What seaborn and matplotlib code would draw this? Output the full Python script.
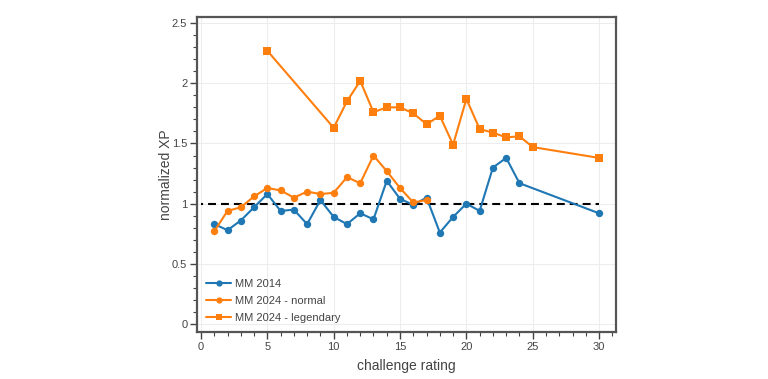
# normalized XP vs challenge rating, MM 2014 vs MM 2024

import matplotlib
matplotlib.use('Agg')
import matplotlib.pyplot as plt
import seaborn as sns
from matplotlib.ticker import MultipleLocator

# Data
cr_2014 = [1, 2, 3, 4, 5, 6, 7, 8, 9, 10, 11, 12, 13, 14, 15, 16, 17, 18, 19, 20, 21, 22, 23, 24, 30]
xp_2014 = [0.83, 0.78, 0.86, 0.97, 1.08, 0.94, 0.95, 0.83, 1.03, 0.89, 0.83, 0.92, 0.87, 1.19,
           1.04, 0.99, 1.05, 0.76, 0.89, 1.00, 0.94, 1.30, 1.38, 1.17, 0.92]

cr_2024_normal = [1, 2, 3, 4, 5, 6, 7, 8, 9, 10, 11, 12, 13, 14, 15, 16, 17]
xp_2024_normal = [0.77, 0.94, 0.97, 1.06, 1.13, 1.11, 1.05, 1.10, 1.08, 1.09, 1.22, 1.17, 1.40,
                  1.27, 1.13, 1.01, 1.03]

cr_2024_legendary = [5, 10, 11, 12, 13, 14, 15, 16, 17, 18, 19, 20, 21, 22, 23, 24, 25, 30]
xp_2024_legendary = [2.27, 1.63, 1.85, 2.02, 1.76, 1.80, 1.80, 1.75, 1.66, 1.73, 1.49, 1.87,
                     1.62, 1.59, 1.55, 1.56, 1.47, 1.38]

baseline_x = [0, 30]
baseline_y = [1, 1]

sns.set_style('white')
plt.rcParams['font.family'] = ['Liberation Sans', 'DejaVu Sans']

fig = plt.figure(figsize=(7.68, 3.79), dpi=100)
ax = fig.add_axes([0.2565, 0.124, 0.5455, 0.831])

blue = '#1f77b4'
orange = '#ff7f0e'

# reference line at 1
sns.lineplot(x=baseline_x, y=baseline_y, ax=ax, color='black', linewidth=1.5, zorder=3)
ax.lines[-1].set_linestyle((2.8, (3.8, 2.4)))

sns.lineplot(x=cr_2014, y=xp_2014, ax=ax, color=blue, marker='o', markersize=5.3,
             markeredgewidth=0, linewidth=1.5, label='MM 2014', zorder=4)
sns.lineplot(x=cr_2024_normal, y=xp_2024_normal, ax=ax, color=orange, marker='o', markersize=5.3,
             markeredgewidth=0, linewidth=1.5, label='MM 2024 - normal', zorder=4)
sns.lineplot(x=cr_2024_legendary, y=xp_2024_legendary, ax=ax, color=orange, marker='s',
             markersize=5.6, markeredgewidth=0, linewidth=1.5, label='MM 2024 - legendary', zorder=4)

ax.set_xlim(-0.3, 31.27)
ax.set_ylim(-0.066, 2.55)

ax.xaxis.set_major_locator(MultipleLocator(5))
ax.xaxis.set_minor_locator(MultipleLocator(1))
ax.yaxis.set_major_locator(MultipleLocator(0.5))
ax.yaxis.set_minor_locator(MultipleLocator(0.1))
ax.yaxis.set_major_formatter(plt.FuncFormatter(lambda v, p: f'{v:g}'))

ax.grid(True, which='major', color='#ededed', linewidth=0.8)
ax.set_axisbelow(True)

for side in ax.spines.values():
    side.set_color('#555555')
    side.set_linewidth(1.6)

ax.tick_params(axis='both', which='major', direction='out', length=5, width=1,
               color='#444444', labelsize=8, labelcolor='#444444', pad=2,
               bottom=True, left=True)
ax.tick_params(axis='both', which='minor', direction='out', length=3, width=0.8,
               color='#444444', bottom=True, left=True)

ax.set_xlabel('challenge rating', fontsize=10, color='#444444', labelpad=5)
ax.set_ylabel('normalized XP', fontsize=10, color='#444444')
ax.yaxis.set_label_coords(-0.058, 0.5)

leg = ax.legend(loc='lower left', frameon=False, fontsize=8, handlelength=2.2,
                handletextpad=0.35, labelspacing=0.62, borderaxespad=0.45, markerscale=0.85)
for t in leg.get_texts():
    t.set_color('#444444')

fig.savefig('out.png', dpi=100)
